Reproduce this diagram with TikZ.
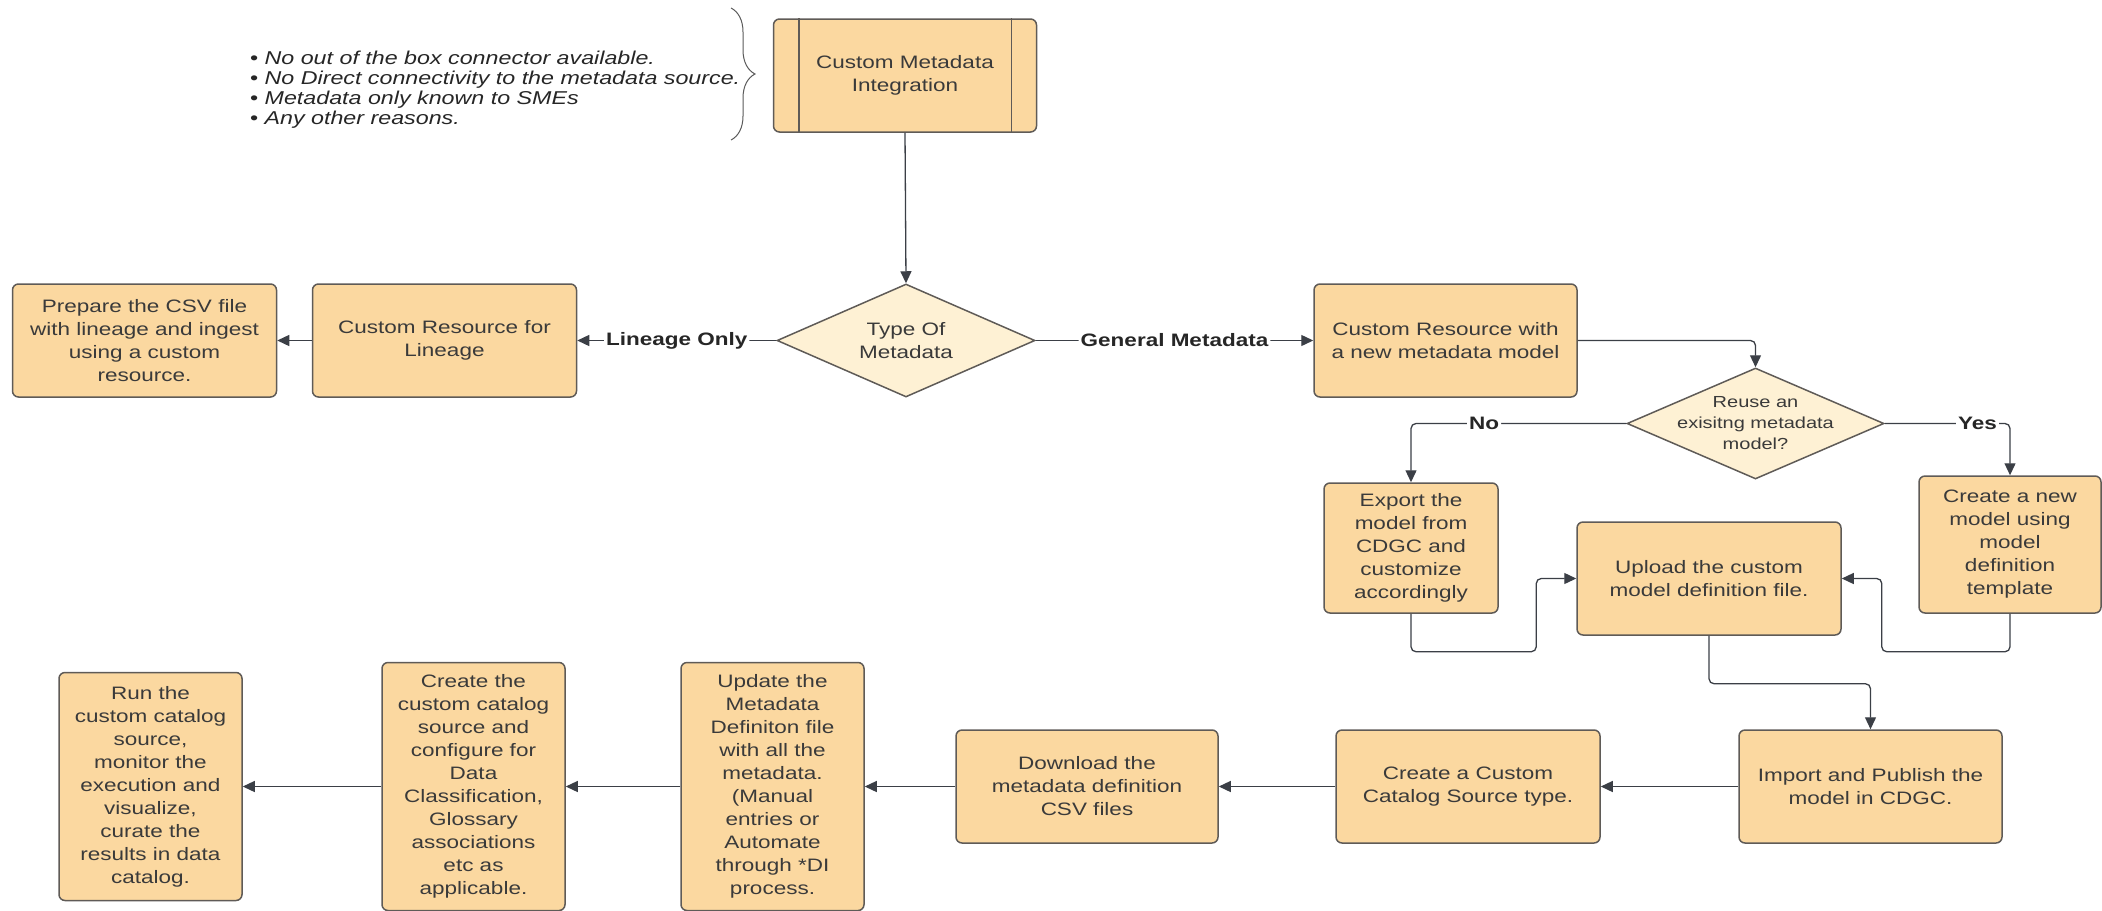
\documentclass[tikz,border=0pt]{standalone}
\usepackage{fontspec}
\setmainfont[FakeStretch=1.25]{Liberation Sans}
\usepackage{tikz}
\usetikzlibrary{arrows.meta,shapes.geometric,decorations.pathreplacing}
\usepackage{xcolor}
\definecolor{boxfill}{HTML}{FBD8A0}
\definecolor{choicefill}{HTML}{FEF1D4}
\definecolor{boxline}{HTML}{5F5B57}
\definecolor{flowcol}{HTML}{3B3F46}
\definecolor{boxtext}{HTML}{3A3A3A}

\begin{document}
\begin{tikzpicture}[
  x=0.5pt, y=-0.5pt,
  stepbox/.style={draw=boxline, fill=boxfill, line width=0.75pt, rounded corners=3pt,
    align=center, inner sep=0pt, text=boxtext, minimum width=132pt, minimum height=56.5pt},
  narrowbox/.style={stepbox, minimum width=91.5pt},
  choice/.style={diamond, draw=boxline, fill=choicefill, line width=0.75pt, inner sep=0pt,
    minimum width=129pt, minimum height=56.5pt},
  choicetext/.style={align=center, inner sep=0pt, text=boxtext},
  flow/.style={draw=flowcol, line width=0.65pt, rounded corners=2.5pt,
    -{Triangle[length=6pt,width=5.5pt]}},
  cond/.style={fill=white, inner sep=1pt, text=black!85, font=\fontsize{9}{11.5}\selectfont\bfseries}
  ]
  \tikzstyle{every node}=[font=\fontsize{9}{11.5}\selectfont]
  \useasboundingbox (0,0) rectangle (2102,910);

  \node[stepbox, minimum width=131.5pt] (cmi) at (905,75.5) {Custom Metadata\\Integration};
  \draw[boxline, line width=0.75pt] ([xshift=13pt]cmi.north west) -- ([xshift=13pt]cmi.south west);
  \draw[boxline, line width=0.75pt] ([xshift=-13pt]cmi.north east) -- ([xshift=-13pt]cmi.south east);

  \node[anchor=west, align=left, text=black!85, font=\fontsize{9.3}{10}\selectfont] (why) at (243,90)
    {•\ \textit{No out of the box connector available.}\\
     •\ \textit{No Direct connectivity to the metadata source.}\\
     •\ \textit{Metadata only known to SMEs}\\
     •\ \textit{Any other reasons.}};
  \coordinate (bracetop) at (731,8);
  \coordinate (bracebot) at (731,140);
  \draw[black!65, line width=0.5pt, decorate, decoration={brace, amplitude=12pt}] (bracetop) -- (bracebot);

  \node[choice] (type) at (906,340.5) {};
  \node[choicetext] (typetxt) at (type.center) {Type Of\\Metadata};
  \node[stepbox] (lin) at (444.5,340.5) {Custom Resource for\\Lineage};
  \node[stepbox] (csv) at (144.5,340.5) {Prepare the CSV file\\with lineage and ingest\\using a custom\\resource.};
  \node[stepbox, minimum width=131.5pt] (newm) at (1445.5,340.5) {Custom Resource with\\a new metadata model};

  \node[choice, minimum width=128.5pt, minimum height=55.5pt] (reuse) at (1755.5,423.5) {};
  \node[choicetext, font=\fontsize{8}{10.5}\selectfont] (reusetxt) at (reuse.center) {Reuse an\\exisitng metadata\\model?};

  \node[stepbox, minimum width=87pt, minimum height=65pt] (export) at (1411,548) {Export the\\model from\\CDGC and\\customize\\accordingly};
  \node[stepbox, minimum width=91pt, minimum height=68.5pt] (newdef) at (2010,544.5) {Create a new\\model using\\model\\definition\\template};
  \node[stepbox] (upload) at (1709,578.5) {Upload the custom\\model definition file.};

  \node[stepbox, minimum width=131.5pt] (import) at (1870.5,786.5) {Import and Publish the\\model in CDGC.};
  \node[stepbox] (ccs) at (1468,786.5) {Create a Custom\\Catalog Source type.};
  \node[stepbox, minimum width=131pt] (download) at (1087,786.5) {Download the\\metadata definition\\CSV files};
  \node[narrowbox, minimum height=124pt] (update) at (772.5,786.5) {Update the\\Metadata\\Definiton file\\with all the\\metadata.\\(Manual\\entries or\\Automate\\through *DI\\process.};
  \node[narrowbox, minimum height=124pt] (ctc) at (473.5,786.5) {Create the\\custom catalog\\source and\\configure for\\Data\\Classification,\\Glossary\\associations\\etc as\\applicable.};
  \node[narrowbox, minimum height=114pt] (run) at (150.5,786.5) {Run the\\custom catalog\\source,\\monitor the\\execution and\\visualize,\\curate the\\results in data\\catalog.};

  \draw[flow] (cmi.south) -- (type.north);
  \draw[flow] (type.west) -- node[cond] {Lineage Only} (lin.east);
  \draw[flow] (lin.west) -- (csv.east);
  \draw[flow] (type.east) -- node[cond] {General Metadata} (newm.east -| newm.west);
  \draw[flow] (newm.east) -| (reuse.north);
  \draw[flow] (reuse.west) -| node[cond, pos=0.33] {No} (export.north);
  \draw[flow] (reuse.east) -| node[cond, pos=0.37] {Yes} (newdef.north);
  \draw[flow] (export.south) -- ++(0,38) -| ([xshift=-20pt]upload.west) -- (upload.west);
  \draw[flow] (newdef.south) -- ++(0,38) -| ([xshift=20pt]upload.east) -- (upload.east);
  \draw[flow] (upload.south) -- ++(0,48) -| (import.north);
  \draw[flow] (import.west) -- (ccs.east);
  \draw[flow] (ccs.west) -- (download.east);
  \draw[flow] (download.west) -- (update.east);
  \draw[flow] (update.west) -- (ctc.east);
  \draw[flow] (ctc.west) -- (run.east);

\end{tikzpicture}
\end{document}
